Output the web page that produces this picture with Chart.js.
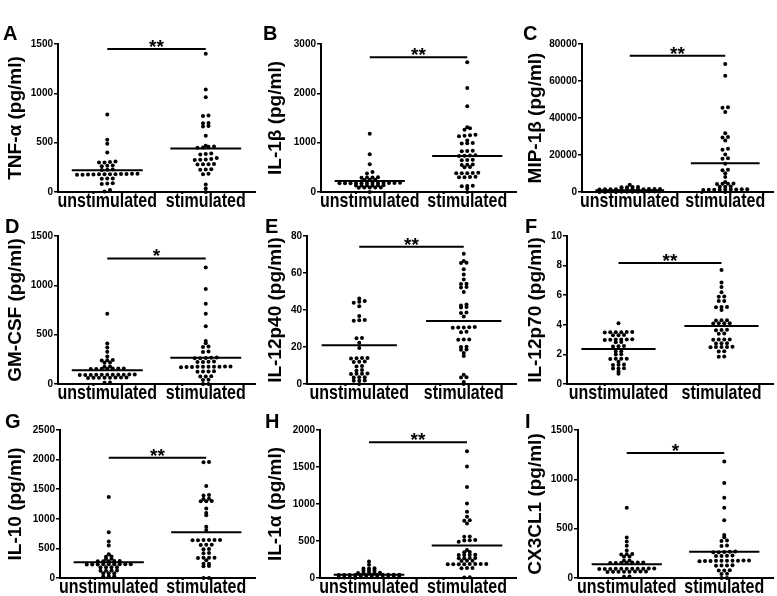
<!DOCTYPE html>
<html>
<head>
<meta charset="utf-8">
<script src="https://cdn.jsdelivr.net/npm/chart.js@4.4.1/dist/chart.umd.min.js"></script>
<style>
  body { margin: 0; background: #fff; width: 777px; height: 596px; position: relative; overflow: hidden; }
  canvas { position: absolute; }
</style>
</head>
<body>
<script>
// Groups on the x axis
const groups = ['unstimulated', 'stimulated'];

// Values (pg/ml), one array per group
const tnfUnstim = [785, 530, 490, 400, 310, 305, 300, 298, 268, 265, 262, 228, 225, 222, 185, 184, 183, 182, 181, 180, 180, 179, 178, 177, 176, 175, 138, 136, 134, 88, 85, 82, 20, 5];
const tnfStim = [1400, 1040, 960, 775, 770, 700, 698, 668, 665, 570, 470, 462, 458, 452, 448, 390, 385, 380, 345, 335, 330, 328, 325, 285, 282, 280, 278, 230, 228, 226, 185, 180, 75, 35, 0];

const il1bUnstim = [1180, 765, 560, 405, 375, 300, 296, 292, 288, 250, 246, 242, 185, 184, 183, 182, 181, 180, 180, 179, 178, 177, 176, 175, 136, 135, 134, 133, 132, 131, 92, 91, 90, 89, 88, 0];
const il1bStim = [2630, 2110, 1740, 1310, 1290, 1260, 1160, 1150, 1140, 1130, 1045, 995, 990, 985, 835, 830, 825, 745, 740, 735, 730, 655, 650, 645, 555, 550, 545, 505, 500, 390, 385, 382, 380, 378, 310, 305, 300, 298, 125, 120, 115, 70, 0];

const mipUnstim = [3900, 2750, 2650, 2600, 2550, 1650, 1600, 1600, 1550, 1550, 1500, 1500, 1480, 1450, 1450, 1420, 1400, 300, 280, 250, 220, 200, 180, 150, 120, 100, 80, 50, 20];
const mipStim = [69200, 62900, 45800, 45500, 43200, 31800, 29700, 29400, 27900, 23400, 22800, 20300, 18300, 18000, 15300, 12000, 11800, 10200, 8100, 5400, 4600, 4500, 4400, 4300, 3000, 2900, 2800, 1500, 1450, 1400, 1350, 1300, 1250, 1200, 1150, 1100, 0];

const gmcsfUnstim = [713, 410, 370, 328, 278, 242, 240, 238, 218, 215, 178, 175, 158, 157, 156, 155, 154, 153, 152, 97, 96, 95, 95, 94, 94, 93, 93, 92, 92, 91, 66, 65, 65, 64, 64, 63, 63, 62, 15, 12];
const gmcsfStim = [1182, 964, 814, 713, 586, 435, 412, 380, 375, 330, 325, 268, 266, 264, 262, 260, 228, 226, 224, 222, 178, 177, 176, 175, 175, 174, 174, 173, 172, 171, 128, 127, 126, 125, 78, 77, 76, 43, 40, 0, 0];

const il12p40Unstim = [46.2, 44.8, 44.4, 43.9, 42, 36.7, 34.6, 34.4, 34.2, 24.9, 24.7, 22.3, 19.5, 14.1, 14, 13.9, 13.8, 12.1, 12, 11.9, 9.7, 9.5, 7.6, 7.2, 5.7, 5.6, 5.5, 5.4, 3.7, 3.6, 3.5, 1.9, 1.8, 1.7, 0];
const il12p40Stim = [70.4, 66.5, 65.6, 65.4, 62, 59.2, 56.5, 54.2, 54, 52.4, 52.2, 49.7, 43, 42.5, 41.6, 41.4, 38.6, 38.4, 36.5, 30.8, 30.7, 30.6, 30.5, 30.4, 28.2, 28, 24.1, 24, 23.9, 20.2, 20, 18.7, 18.5, 16.8, 15.2, 5, 3.7, 3.5, 1.1, 0];

const il12p70Unstim = [4.1, 3.52, 3.51, 3.5, 3.5, 3.49, 3.48, 3.31, 3.3, 3.29, 3.02, 3.01, 3, 3, 2.99, 2.98, 2.83, 2.82, 2.56, 2.55, 2.54, 2.21, 2.2, 2.01, 2, 1.71, 1.7, 1.7, 1.69, 1.5, 1.31, 1.3, 1.29, 1.06, 1.05, 1.04, 0.85, 0.7];
const il12p70Stim = [7.7, 6.85, 6.55, 6.2, 5.91, 5.9, 5.61, 5.6, 5.21, 5.2, 5.19, 5, 4.31, 4.3, 4.29, 4.11, 4.1, 4.1, 4.09, 3.66, 3.65, 3.64, 3.41, 3.4, 3.01, 3, 3, 2.99, 2.76, 2.75, 2.74, 2.51, 2.5, 2.5, 2.5, 2.49, 2.21, 2.2, 1.86, 1.84];

const il10Unstim = [1370, 772, 615, 548, 403, 364, 360, 324, 320, 288, 286, 285, 284, 282, 234, 233, 232, 232, 231, 231, 230, 230, 229, 182, 181, 180, 179, 126, 125, 124, 123, 81, 80, 79, 29, 28, 27];
const il10Stim = [1960, 1955, 1555, 1400, 1395, 1340, 1335, 1300, 1298, 1295, 1175, 1100, 1060, 865, 810, 642, 641, 640, 640, 639, 638, 561, 560, 559, 488, 487, 421, 420, 342, 341, 340, 339, 300, 241, 240, 201, 200, 0, 0];

const il1aUnstim = [224, 180, 132, 130, 128, 102, 100, 98, 72, 71, 70, 69, 68, 44, 44, 43, 43, 42, 42, 42, 41, 41, 40, 40, 40, 12, 12, 11, 11, 11, 10, 10, 10, 9, 9, 8, 8];
const il1aStim = [1714, 1508, 1230, 1007, 895, 828, 780, 775, 738, 562, 558, 512, 510, 508, 490, 380, 352, 348, 314, 313, 312, 311, 270, 269, 268, 267, 233, 232, 231, 190, 189, 188, 188, 187, 187, 186, 185, 136, 134, 132, 9, 8];

const cx3cl1Unstim = [713, 410, 370, 328, 278, 242, 240, 238, 218, 215, 178, 175, 158, 157, 156, 155, 154, 153, 152, 97, 96, 95, 95, 94, 94, 93, 93, 92, 92, 91, 66, 65, 65, 64, 64, 63, 63, 62, 15, 12];
const cx3cl1Stim = [1182, 964, 814, 713, 586, 435, 412, 380, 375, 330, 325, 268, 266, 264, 262, 260, 228, 226, 224, 222, 178, 177, 176, 175, 175, 174, 174, 173, 172, 171, 128, 127, 126, 125, 78, 77, 76, 43, 40, 0, 0];

// Panel labels, axis titles and ranges
const panelLetters = ['A', 'B', 'C', 'D', 'E', 'F', 'G', 'H', 'I'];
const yTitles = ['TNF-α (pg/ml)', 'IL-1β (pg/ml)', 'MIP-1β (pg/ml)', 'GM-CSF (pg/ml)', 'IL-12p40 (pg/ml)', 'IL-12p70 (pg/ml)', 'IL-10 (pg/ml)', 'IL-1α (pg/ml)', 'CX3CL1 (pg/ml)'];
const yMax = [1500, 3000, 80000, 1500, 80, 10, 2500, 2000, 1500];
const yStep = [500, 1000, 20000, 500, 20, 2, 500, 500, 500];

// Median lines [unstimulated, stimulated]
const medians = [[220, 440], [225, 730], [900, 15500], [140, 265], [21, 34], [2.37, 3.92], [265, 772], [45, 438], [140, 265]];

// Significance marks and the height of their bar
const sigMarks = ['**', '**', '**', '*', '**', '**', '**', '**', '*'];
const sigHeights = [1450, 2730, 73700, 1272, 74.2, 8.18, 2030, 1834, 1267];

const panelData = [
    [tnfUnstim, tnfStim], [il1bUnstim, il1bStim], [mipUnstim, mipStim],
    [gmcsfUnstim, gmcsfStim], [il12p40Unstim, il12p40Stim], [il12p70Unstim, il12p70Stim],
    [il10Unstim, il10Stim], [il1aUnstim, il1aStim], [cx3cl1Unstim, cx3cl1Stim]
];

// Grid layout of the nine panels
const colLeft = [0, 260, 520];
const colWidth = [259, 260, 257];
const rowTop = [0, 214, 406];
const rowHeight = [214, 192, 190];
const padTop = [44, 22, 24];
const padBottom = [4, 4, 0];
const letterPos = [[3, 40], [5, 19], [5, 22]];
const axisWidth = [58, 61, 62, 58, 47, 47, 60, 60, 58];

const FONT = '"Liberation Sans", Arial, sans-serif';
Chart.defaults.font.family = FONT;
Chart.defaults.color = '#000';

const DOT_GAP = 5.5;  // horizontal spacing of dots in a row (px)
const ROW_PX = 2;     // values closer than this share a row (px)
const MEDIAN_HALF = 0.36;
const LABEL_STRETCH = 1.3; // the group labels are drawn tall and narrow

// spread the dots of each group sideways, rows centred on the group
function swarm(chart) {
    const xs = chart.scales.x, ys = chart.scales.y;
    const unit = xs.getPixelForValue(1) - xs.getPixelForValue(0);
    [0, 1].forEach(function(d) {
        const ds = chart.data.datasets[d];
        const vals = ds.data.map(p => p.y);
        const order = vals.map((v, i) => i).sort((a, b) => vals[a] - vals[b]);
        const rows = [];
        let cur = null;
        order.forEach(function(i) {
            const py = ys.getPixelForValue(vals[i]);
            if (cur && cur.start - py < ROW_PX) {
                cur.items.push(i);
            } else {
                cur = { start: py, items: [i] };
                rows.push(cur);
            }
        });
        rows.forEach(function(r) {
            r.items.forEach(function(i, k) {
                ds.data[i].x = d + ((k - (r.items.length - 1) / 2) * DOT_GAP) / unit;
            });
        });
    });
    chart.update('none');
}

function makePanel(i) {
    const col = i % 3, row = Math.floor(i / 3);
    const canvas = document.createElement('canvas');
    canvas.width = colWidth[col];
    canvas.height = rowHeight[row];
    canvas.style.left = colLeft[col] + 'px';
    canvas.style.top = rowTop[row] + 'px';
    document.body.appendChild(canvas);

    const dots = (vals, cat) => ({
        data: vals.map(v => ({ x: cat, y: v })),
        pointRadius: 2,
        pointBackgroundColor: '#000',
        pointBorderWidth: 0,
        showLine: false,
        clip: false
    });
    const hline = (x0, x1, y) => ({
        data: [{ x: x0, y: y }, { x: x1, y: y }],
        showLine: true,
        borderColor: '#000',
        borderWidth: 2,
        pointRadius: 0,
        clip: false
    });

    const marks = {
        id: 'marks',
        afterDraw(chart) {
            const ctx = chart.ctx, xs = chart.scales.x, ys = chart.scales.y;
            ctx.save();
            ctx.fillStyle = '#000';
            ctx.textBaseline = 'alphabetic';
            ctx.textAlign = 'left';
            ctx.font = 'bold 20px ' + FONT;
            ctx.fillText(panelLetters[i], letterPos[row][0], letterPos[row][1]);

            // significance asterisks over the bar
            ctx.textAlign = 'center';
            ctx.font = 'bold 19px ' + FONT;
            ctx.fillText(sigMarks[i], xs.getPixelForValue(0.5), ys.getPixelForValue(sigHeights[i]) + 4);

            // group labels under the x axis
            ctx.font = 'bold 16px ' + FONT;
            const base = chart.chartArea.bottom + 15;
            groups.forEach(function(g, k) {
                ctx.save();
                ctx.translate(xs.getPixelForValue(k), base);
                ctx.scale(1, LABEL_STRETCH);
                ctx.fillText(g, 0, 0);
                ctx.restore();
            });
            ctx.restore();
        }
    };

    const chart = new Chart(canvas, {
        type: 'scatter',
        data: {
            datasets: [
                dots(panelData[i][0], 0),
                dots(panelData[i][1], 1),
                hline(-MEDIAN_HALF, MEDIAN_HALF, medians[i][0]),
                hline(1 - MEDIAN_HALF, 1 + MEDIAN_HALF, medians[i][1]),
                hline(0, 1, sigHeights[i])
            ]
        },
        options: {
            responsive: false,
            animation: false,
            events: [],
            layout: { padding: { top: padTop[row], bottom: padBottom[row], left: 0, right: 0 } },
            plugins: { legend: { display: false }, tooltip: { enabled: false } },
            scales: {
                x: {
                    type: 'linear',
                    min: -0.5,
                    max: 1.5,
                    afterBuildTicks: s => { s.ticks = [{ value: 0 }, { value: 1 }]; },
                    afterFit: s => { s.height = 18; },
                    ticks: { display: false },
                    grid: { display: false, drawTicks: false },
                    border: { display: true, color: '#000', width: 2 }
                },
                y: {
                    min: 0,
                    max: yMax[i],
                    afterFit: s => { s.width = axisWidth[i]; },
                    ticks: {
                        stepSize: yStep[i],
                        callback: v => String(v),
                        font: { size: 10, weight: 'bold' },
                        color: '#000',
                        padding: 1
                    },
                    grid: { display: true, drawOnChartArea: false, drawTicks: true, tickLength: 4, color: '#000', lineWidth: 1.5 },
                    border: { display: true, color: '#000', width: 2 },
                    title: {
                        display: true,
                        text: yTitles[i],
                        font: { size: 19, weight: 'bold' },
                        color: '#000',
                        padding: { top: 4, bottom: 2 }
                    }
                }
            }
        },
        plugins: [marks]
    });
    swarm(chart);
}

for (let i = 0; i < 9; i++) {
    makePanel(i);
}
</script>
</body>
</html>
